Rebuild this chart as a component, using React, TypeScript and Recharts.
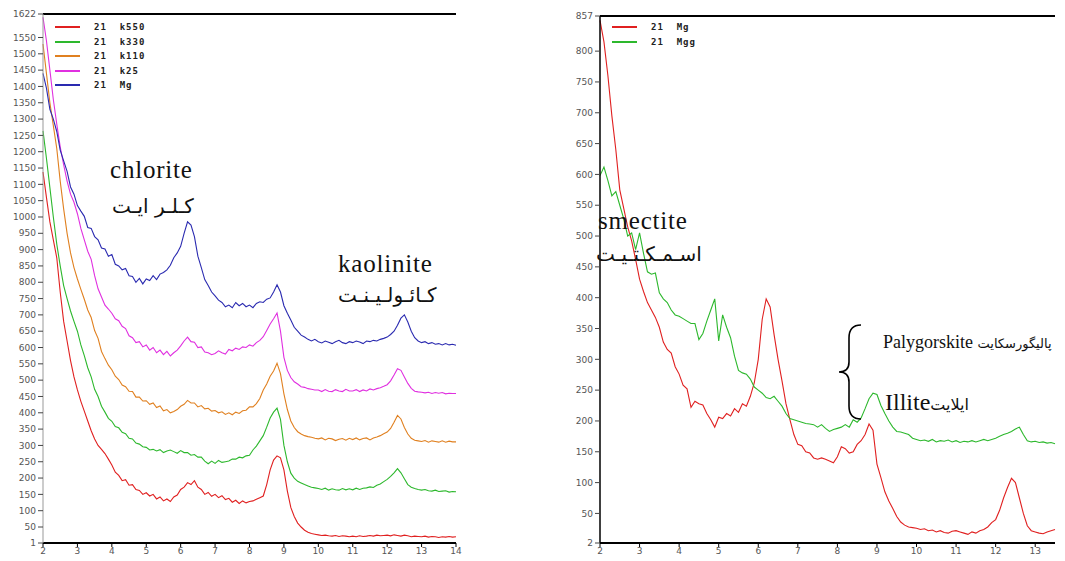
import React from 'react'
import { LineChart, Line, XAxis, YAxis, ReferenceLine } from 'recharts'

// 2θ scan grid (0.1° steps)
const leftTheta = Array.from({ length: 121 }, (_, i) => +(2 + i * 0.1).toFixed(1))
const rightTheta = Array.from({ length: 116 }, (_, i) => +(2 + i * 0.1).toFixed(1))

// left panel – heat treatments of sample 21
const k550 = [
  1138, 1060, 985, 930, 875, 770, 680, 620, 560, 510,
  470, 435, 405, 375, 345, 320, 300, 288, 275, 258,
  240, 218, 208, 192, 195, 178, 180, 165, 162, 150,
  155, 145, 150, 136, 142, 130, 136, 128, 142, 148,
  165, 172, 186, 180, 192, 172, 165, 150, 156, 144,
  150, 140, 146, 134, 138, 126, 132, 122, 130, 124,
  128, 130, 135, 140, 145, 180, 225, 255, 268, 262,
  225, 160, 110, 82, 62, 50, 40, 34, 30, 28,
  26, 24, 25, 23, 22, 24, 21, 23, 22, 20,
  22, 20, 23, 21, 22, 24, 22, 25, 23, 24,
  25, 23, 26, 24, 22, 25, 23, 20, 22, 21,
  20, 22, 19, 21, 20, 18, 20, 19, 21, 19,
  20,
]
const k330 = [
  1264, 1180, 1090, 1000, 917, 850, 790, 750, 712, 680,
  650, 608, 575, 538, 510, 472, 450, 420, 402, 383,
  374, 358, 354, 340, 336, 322, 320, 307, 304, 296,
  294, 286, 288, 283, 287, 278, 283, 286, 281, 276,
  284, 278, 278, 270, 272, 264, 264, 252, 244, 252,
  245, 254, 248, 250, 252, 258, 258, 264, 262, 268,
  270, 286, 298, 314, 330, 356, 384, 402, 414, 380,
  300, 250, 215, 200, 190, 185, 180, 176, 172, 170,
  168, 165, 169, 163, 167, 164, 163, 168, 164, 167,
  164, 169, 165, 169, 170, 173, 171, 178, 182, 189,
  196, 205, 216, 229, 216, 198, 180, 172, 168, 165,
  163, 165, 161, 160, 163, 159, 160, 161, 157, 159,
  158,
]
const k110 = [
  1530, 1440, 1350, 1280, 1210, 1110, 1025, 950, 890, 845,
  810, 778, 748, 715, 692, 652, 628, 588, 566, 546,
  532, 512, 502, 485, 480, 466, 465, 448, 448, 436,
  437, 426, 430, 416, 421, 406, 410, 400, 404, 410,
  420, 426, 438, 430, 430, 418, 422, 412, 414, 405,
  407, 400, 403, 395, 400, 394, 402, 398, 406, 408,
  418, 418, 428, 444, 470, 488, 512, 528, 552, 520,
  458, 410, 375, 355, 342, 335, 330, 327, 325, 322,
  320, 323, 317, 322, 320, 315, 319, 321, 316, 322,
  318, 323, 317, 321, 323, 317, 323, 326, 330, 336,
  341, 352, 371, 392, 381, 355, 335, 322, 316, 314,
  312, 315, 310, 314, 312, 310, 314, 310, 313, 311,
  311,
]
const k25 = [
  1612, 1540, 1450, 1360, 1285, 1215, 1160, 1110, 1070, 1045,
  1010, 965, 930, 895, 870, 820, 780, 755, 730, 718,
  705, 688, 682, 665, 658, 636, 630, 615, 618, 602,
  608, 592, 600, 584, 592, 578, 588, 574, 584, 592,
  605, 620, 632, 618, 616, 600, 602, 586, 584, 578,
  582, 590, 584, 580, 594, 590, 598, 594, 602, 600,
  608, 604, 615, 622, 633, 652, 672, 688, 706, 650,
  570, 530, 508, 495, 488, 480, 478, 474, 472, 470,
  470, 465, 471, 466, 465, 471, 467, 465, 472, 467,
  467, 471, 465, 470, 467, 473, 470, 474, 477, 481,
  486, 498, 516, 535, 530, 510, 490, 475, 466, 464,
  463, 461, 463, 459, 462, 460, 462, 458, 460, 459,
  459,
]
const mgLeft = [
  1440, 1395, 1330, 1300, 1262, 1205, 1172, 1140, 1092, 1070,
  1035, 1018, 1002, 968, 965, 940, 930, 905, 902, 880,
  885, 855, 850, 838, 842, 820, 818, 800, 812, 795,
  810, 805, 820, 808, 825, 830, 838, 852, 875, 890,
  910, 950, 985, 975, 940, 880, 845, 808, 790, 770,
  758, 745, 738, 725, 730, 722, 738, 728, 735, 725,
  730, 722, 735, 740, 738, 748, 752, 770, 792, 770,
  728, 705, 684, 662, 650, 638, 632, 625, 620, 625,
  618, 614, 620, 616, 612, 618, 622, 615, 612, 618,
  615, 620, 617, 612, 620, 618, 622, 620, 625, 628,
  632, 640, 650, 668, 690, 700, 678, 650, 630, 620,
  615, 618, 612, 615, 610, 612, 608, 612, 608, 610,
  607,
]

// right panel – Mg and Mg + glycol
const mgRight = [
  850, 815, 760, 695, 640, 575, 545, 515, 492, 462,
  430, 410, 392, 380, 368, 352, 328, 316, 310, 288,
  276, 258, 252, 222, 232, 228, 226, 212, 202, 190,
  206, 204, 212, 208, 220, 214, 228, 224, 240, 262,
  300, 365, 398, 385, 340, 300, 265, 228, 202, 178,
  162, 160, 150, 148, 140, 138, 140, 138, 135, 132,
  142, 158, 155, 148, 150, 162, 168, 178, 195, 185,
  130, 108, 85, 70, 58, 45, 36, 31, 28, 27,
  26, 24, 25, 22, 23, 20, 22, 19, 18, 21,
  22, 20, 18, 16, 20, 18, 22, 24, 28, 35,
  40, 55, 75, 92, 107, 100, 75, 50, 30, 22,
  20, 18, 17, 20, 22, 24,
]
const mgg = [
  598, 612, 590, 565, 572, 550, 528, 500, 505, 478,
  505, 472, 442, 438, 440, 408, 398, 392, 380, 372,
  370, 366, 362, 358, 358, 332, 342, 362, 380, 398,
  330, 372, 352, 335, 305, 282, 278, 276, 268, 255,
  250, 245, 238, 236, 240, 232, 224, 212, 204, 202,
  200, 198, 196, 195, 194, 190, 194, 188, 183, 186,
  188, 190, 194, 190, 202, 198, 205, 220, 236, 245,
  243, 225, 212, 200, 190, 183, 182, 180, 178, 172,
  170, 168, 169, 167, 170, 166, 168, 167, 169, 166,
  168, 165, 167, 166, 168, 166, 168, 170, 168, 170,
  172, 175, 178, 180, 183, 187, 190, 178, 168, 166,
  167, 165, 166, 164, 165, 163,
]

const leftXTicks = [2, 3, 4, 5, 6, 7, 8, 9, 10, 11, 12, 13, 14]
const rightXTicks = [2, 3, 4, 5, 6, 7, 8, 9, 10, 11, 12, 13]
const leftYTicks = [1, 50, 100, 150, 200, 250, 300, 350, 400, 450, 500, 550, 600, 650, 700, 750, 800, 850,
  900, 950, 1000, 1050, 1100, 1150, 1200, 1250, 1300, 1350, 1400, 1450, 1500, 1550, 1622]
const rightYTicks = [2, 50, 100, 150, 200, 250, 300, 350, 400, 450, 500, 550, 600, 650, 700, 750, 800, 857]

const leftSeries = [
  { key: 'k550', label: '21  k550', color: '#e02020', values: k550 },
  { key: 'k330', label: '21  k330', color: '#2db82d', values: k330 },
  { key: 'k110', label: '21  k110', color: '#e08020', values: k110 },
  { key: 'k25', label: '21  k25', color: '#e030e0', values: k25 },
  { key: 'mg', label: '21  Mg', color: '#2a2ab0', values: mgLeft },
]
const rightSeries = [
  { key: 'mg', label: '21  Mg', color: '#e02020', values: mgRight },
  { key: 'mgg', label: '21  Mgg', color: '#2db82d', values: mgg },
]

const leftData = leftTheta.map((t, i) => {
  const row: any = { t }
  leftSeries.forEach(s => { row[s.key] = s.values[i] })
  return row
})
const rightData = rightTheta.map((t, i) => {
  const row: any = { t }
  rightSeries.forEach(s => { row[s.key] = s.values[i] })
  return row
})

const tickStyle = { fontSize: 9, fill: '#555', fontFamily: 'DejaVu Sans' }

function SeriesKey({ x, y, items }: { x: number; y: number; items: { label: string; color: string }[] }) {
  return (
    <div style={{ position: 'absolute', left: x, top: y }}>
      {items.map(it => (
        <div key={it.label} style={{ display: 'flex', alignItems: 'center', height: 14.5 }}>
          <span style={{ width: 25, height: 2, background: it.color, marginRight: 14 }} />
          <span style={{
            font: 'bold 9px "DejaVu Sans Mono"', letterSpacing: 1, color: '#222', whiteSpace: 'pre'
          }}>{it.label}</span>
        </div>
      ))}
    </div>
  )
}

const serif = '"Liberation Serif", "Times New Roman", serif'
const arabic = '"DejaVu Sans", sans-serif'

function Note({ x, y, size, font = serif, children }: any) {
  return (
    <div style={{
      position: 'absolute', left: x, top: y, fontSize: size, lineHeight: `${size}px`,
      fontFamily: font, color: '#111', whiteSpace: 'nowrap'
    }}>{children}</div>
  )
}

export default function App() {
  return (
    <div style={{ position: 'fixed', left: 0, top: 0, width: 1065, height: 561, background: '#fff', overflow: 'hidden' }}>
      {/* left: chlorite / kaolinite */}
      <div style={{ position: 'absolute', left: 0, top: 0 }}>
        <LineChart width={470} height={561} data={leftData} margin={{ top: 14, right: 14, left: 0, bottom: 0 }}>
          <XAxis dataKey="t" type="number" domain={[2, 14]} ticks={leftXTicks} height={18}
            tick={tickStyle} tickSize={4} tickMargin={1}
            axisLine={{ stroke: '#000', strokeWidth: 2 }} tickLine={{ stroke: '#000' }} />
          <YAxis type="number" domain={[1, 1622]} ticks={leftYTicks} width={43} interval={0}
            tick={tickStyle} tickSize={5} tickMargin={2}
            axisLine={{ stroke: '#999' }} tickLine={{ stroke: '#444' }} />
          <ReferenceLine y={1622} stroke="#000" strokeWidth={2} />
          {leftSeries.map(s => (
            <Line key={s.key} type="linear" dataKey={s.key} stroke={s.color} strokeWidth={1.1}
              dot={false} isAnimationActive={false} />
          ))}
        </LineChart>
      </div>
      <SeriesKey x={55} y={20} items={leftSeries} />

      {/* right: smectite / palygorskite / illite */}
      <div style={{ position: 'absolute', left: 557, top: 0 }}>
        <LineChart width={508} height={561} data={rightData} margin={{ top: 16, right: 10, left: 0, bottom: 0 }}>
          <XAxis dataKey="t" type="number" domain={[2, 13.5]} ticks={rightXTicks} height={18}
            tick={tickStyle} tickSize={4} tickMargin={1}
            axisLine={{ stroke: '#000', strokeWidth: 2 }} tickLine={{ stroke: '#000' }} />
          <YAxis type="number" domain={[2, 857]} ticks={rightYTicks} width={43} interval={0}
            tick={tickStyle} tickSize={5} tickMargin={2}
            axisLine={{ stroke: '#000', strokeWidth: 1.5 }} tickLine={{ stroke: '#444' }} />
          <ReferenceLine y={857} stroke="#000" strokeWidth={2} />
          {rightSeries.map(s => (
            <Line key={s.key} type="linear" dataKey={s.key} stroke={s.color} strokeWidth={1.1}
              dot={false} isAnimationActive={false} />
          ))}
        </LineChart>
      </div>
      <SeriesKey x={612} y={20} items={rightSeries} />

      {/* mineral labels */}
      <Note x={110} y={157} size={25}><span style={{ letterSpacing: 0.8 }}>chlorite</span></Note>
      <Note x={112} y={196} size={20} font={arabic}>کـلـر ایـت</Note>
      <Note x={338} y={251} size={25}><span style={{ letterSpacing: 0.8 }}>kaolinite</span></Note>
      <Note x={338} y={285} size={20} font={arabic}>کـائـولـیـنـت</Note>
      <Note x={598} y={208} size={25}><span style={{ letterSpacing: 0.8 }}>smectite</span></Note>
      <Note x={596} y={244} size={20} font={arabic}>اسـمـکـتـیـت</Note>
      <Note x={883} y={333} size={18}>
        Palygorskite <span style={{ fontFamily: arabic, fontSize: 13 }}>پالیگورسکایت</span>
      </Note>
      <Note x={885} y={390} size={24}>
        Illite<span style={{ fontFamily: arabic, fontSize: 16 }}>ایلایت</span>
      </Note>
      <svg style={{ position: 'absolute', left: 834, top: 322 }} width={32} height={100}>
        <path d="M 27 3 Q 15 3 15 16 L 15 40 Q 15 50 5 50 Q 15 50 15 60 L 15 84 Q 15 97 27 97"
          fill="none" stroke="#000" strokeWidth={1.6} />
      </svg>
    </div>
  )
}
